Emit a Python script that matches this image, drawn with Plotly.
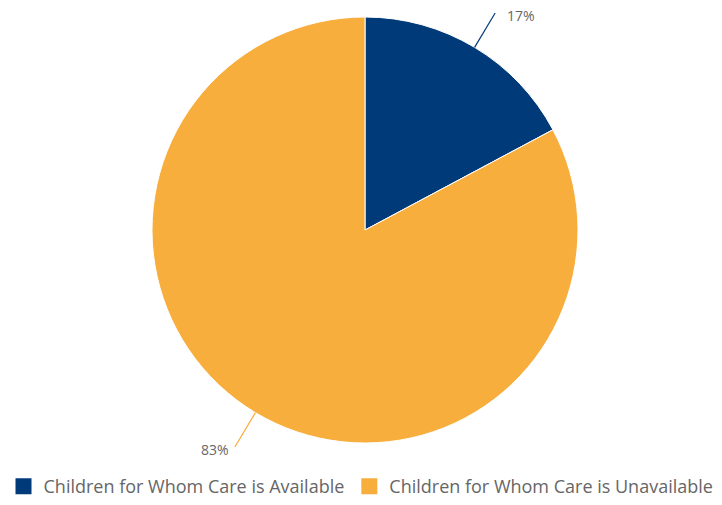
import math
import plotly.graph_objects as go

categories = ["Children for Whom Care is Available", "Children for Whom Care is Unavailable"]
values = [17.2, 82.8]
colors = ["#003a78", "#f8ae3d"]

W, H = 722, 505
cx_px, cy_px, r_px = 365, 230, 213

fig = go.Figure()
fig.add_trace(go.Pie(
    labels=categories,
    values=values,
    sort=False,
    direction="clockwise",
    rotation=0,
    marker=dict(colors=colors, line=dict(color="white", width=1)),
    textinfo="none",
    hoverinfo="label+percent",
    showlegend=False,
    domain=dict(x=[(cx_px - r_px) / W, (cx_px + r_px) / W],
                y=[1 - (cy_px + r_px) / H, 1 - (cy_px - r_px) / H]),
))

# legend entries with larger square symbols
for name, col in zip(categories, colors):
    fig.add_trace(go.Scatter(
        x=[None], y=[None], mode="markers", name=name,
        marker=dict(symbol="square", size=16, color=col),
        hoverinfo="skip", showlegend=True,
    ))

total = sum(values)
cum = 0
shapes = []
annotations = []
for v, col in zip(values, colors):
    mid = (cum + v / 2) / total * 2 * math.pi
    cum += v
    sx, sy = math.sin(mid), -math.cos(mid)
    x0, y0 = cx_px + r_px * sx, cy_px + r_px * sy
    x1, y1 = cx_px + (r_px + 40) * sx, cy_px + (r_px + 40) * sy
    shapes.append(dict(type="line", xref="paper", yref="paper",
                       x0=x0 / W, y0=1 - y0 / H, x1=x1 / W, y1=1 - y1 / H,
                       line=dict(color=col, width=1.2)))
    right = sx >= 0
    annotations.append(dict(
        xref="paper", yref="paper",
        x=(x1 + (11 if right else -5)) / W, y=1 - (y1 + 2.5) / H,
        text=f"{round(v / total * 100)}%", showarrow=False,
        xanchor="left" if right else "right", yanchor="middle",
        borderpad=0,
        font=dict(family="Open Sans, sans-serif", size=14, color="#666666"),
    ))

fig.update_layout(
    width=W, height=H,
    margin=dict(l=0, r=0, t=0, b=0),
    paper_bgcolor="white",
    plot_bgcolor="white",
    xaxis=dict(visible=False),
    yaxis=dict(visible=False),
    shapes=shapes,
    annotations=annotations,
    showlegend=True,
    legend=dict(orientation="h", x=0.5, xanchor="center",
                y=0, yanchor="bottom",
                font=dict(family="Open Sans, sans-serif", size=18, color="#666666"),
                itemsizing="trace", itemwidth=30, traceorder="normal"),
)

fig.write_html("out.html", config={"displayModeBar": False},
               post_script="document.body.style.margin='0px';")
